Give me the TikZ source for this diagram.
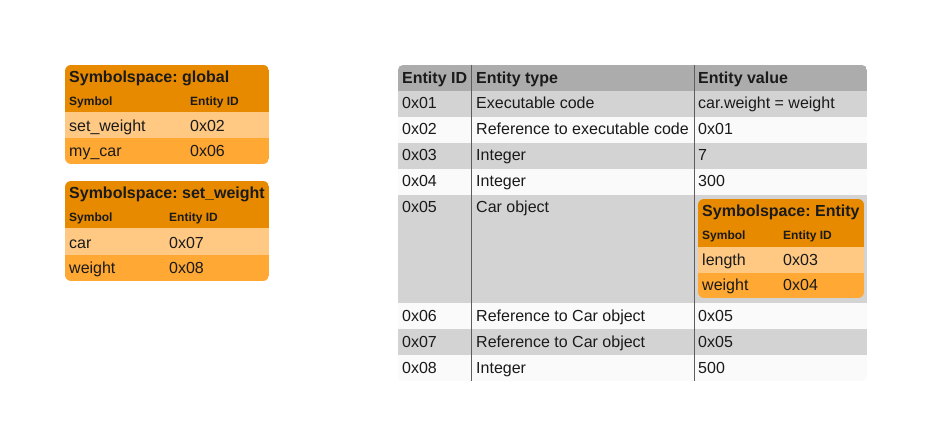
\documentclass[tikz,border=0pt]{standalone}
\usepackage{fontspec}
\setmainfont{Liberation Sans}
\frenchspacing
\definecolor{hdr}{HTML}{E88A00}
\definecolor{rowa}{HTML}{FFC983}
\definecolor{rowb}{HTML}{FFA833}
\definecolor{ghdr}{HTML}{ACACAC}
\definecolor{godd}{HTML}{D3D3D3}
\definecolor{geven}{HTML}{FAFAFA}
\definecolor{sepline}{HTML}{5E5E5E}
\definecolor{ink}{HTML}{1A1A1A}
\tikzset{
  cell/.style={anchor=base west, inner sep=0pt, text=ink, font=\fontsize{16}{19}\selectfont},
  boxtitle/.style={cell, font=\fontsize{16}{19}\selectfont\bfseries},
  colhead/.style={cell, font=\fontsize{12}{14}\selectfont\bfseries},
  rounded/.style={rounded corners=6pt},
}
\begin{document}
\begin{tikzpicture}[x=1pt,y=-1pt]
\useasboundingbox[fill=white] (0,0) rectangle (933,446);

% ---- Symbolspace: global ----
\begin{scope}
  \clip[rounded] (65,65) rectangle (269,164);
  \fill[hdr]  (65,65)  rectangle (269,112);
  \fill[rowa] (65,112) rectangle (269,138);
  \fill[rowb] (65,138) rectangle (269,164);
\end{scope}
\node[boxtitle] (g-title) at (69,83)  {Symbolspace: global};
\node[colhead]  (g-sym)   at (69,106) {Symbol};
\node[colhead]  (g-id)    at (190,106) {Entity ID};
\node[cell] (g-s1) at (69,132)  {set\_weight};
\node[cell] (g-i1) at (190,132) {0x02};
\node[cell] (g-s2) at (69,157)  {my\_car};
\node[cell] (g-i2) at (190,157) {0x06};

% ---- Symbolspace: set_weight ----
\begin{scope}
  \clip[rounded] (65,181) rectangle (269,281);
  \fill[hdr]  (65,181) rectangle (269,228);
  \fill[rowa] (65,228) rectangle (269,255);
  \fill[rowb] (65,255) rectangle (269,281);
\end{scope}
\node[boxtitle] (w-title) at (69,199) {Symbolspace: set\_weight};
\node[colhead]  (w-sym)   at (69,222) {Symbol};
\node[colhead]  (w-id)    at (169,222) {Entity ID};
\node[cell] (w-s1) at (69,248)  {car};
\node[cell] (w-i1) at (169,248) {0x07};
\node[cell] (w-s2) at (69,273)  {weight};
\node[cell] (w-i2) at (169,273) {0x08};

% ---- Entity table ----
\begin{scope}
  \clip[rounded corners=5pt] (398,65) rectangle (867,381);
  \fill[ghdr]  (398,65)  rectangle (867,91);
  \fill[godd]  (398,91)  rectangle (867,117);
  \fill[geven] (398,117) rectangle (867,143);
  \fill[godd]  (398,143) rectangle (867,169);
  \fill[geven] (398,169) rectangle (867,195);
  \fill[godd]  (398,195) rectangle (867,303);
  \fill[geven] (398,303) rectangle (867,329);
  \fill[godd]  (398,329) rectangle (867,355);
  \fill[geven] (398,355) rectangle (867,381);
\end{scope}
\draw[sepline, line width=1pt] (471.5,65) -- (471.5,381);
\draw[sepline, line width=1pt] (694.5,65) -- (694.5,381);

\node[boxtitle] (h1) at (402,84) {Entity ID};
\node[boxtitle] (h2) at (476,84) {Entity type};
\node[boxtitle] (h3) at (698,84) {Entity value};

\node[cell] (e1a) at (402,109) {0x01};
\node[cell] (e1b) at (476,109) {Executable code};
\node[cell] (e1c) at (698,109) {car.weight = weight};
\node[cell] (e2a) at (402,135) {0x02};
\node[cell] (e2b) at (476,135) {Reference to executable code};
\node[cell] (e2c) at (698,135) {0x01};
\node[cell] (e3a) at (402,161) {0x03};
\node[cell] (e3b) at (476,161) {Integer};
\node[cell] (e3c) at (698,161) {7};
\node[cell] (e4a) at (402,187) {0x04};
\node[cell] (e4b) at (476,187) {Integer};
\node[cell] (e4c) at (698,187) {300};
\node[cell] (e5a) at (402,213) {0x05};
\node[cell] (e5b) at (476,213) {Car object};
\node[cell] (e6a) at (402,321) {0x06};
\node[cell] (e6b) at (476,321) {Reference to Car object};
\node[cell] (e6c) at (698,321) {0x05};
\node[cell] (e7a) at (402,347) {0x07};
\node[cell] (e7b) at (476,347) {Reference to Car object};
\node[cell] (e7c) at (698,347) {0x05};
\node[cell] (e8a) at (402,373) {0x08};
\node[cell] (e8b) at (476,373) {Integer};
\node[cell] (e8c) at (698,373) {500};

% ---- Symbolspace: Entity (value of 0x05) ----
\begin{scope}
  \clip[rounded] (698,199) rectangle (864,298);
  \fill[hdr]  (698,199) rectangle (864,247);
  \fill[rowa] (698,247) rectangle (864,273);
  \fill[rowb] (698,273) rectangle (864,298);
\end{scope}
\node[boxtitle] (c-title) at (702,217) {Symbolspace: Entity};
\node[colhead]  (c-sym)   at (702,240) {Symbol};
\node[colhead]  (c-id)    at (783,240) {Entity ID};
\node[cell] (c-s1) at (702,265) {length};
\node[cell] (c-i1) at (783,265) {0x03};
\node[cell] (c-s2) at (702,290) {weight};
\node[cell] (c-i2) at (783,290) {0x04};
\end{tikzpicture}
\end{document}
